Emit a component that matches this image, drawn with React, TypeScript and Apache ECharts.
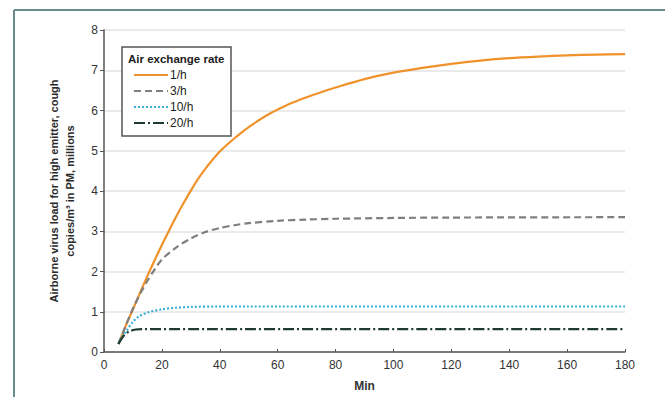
import React, { useEffect, useRef } from "react";
import * as echarts from "echarts";

const seriesNames = ["1/h", "3/h", "10/h", "20/h"];

const rate1: [number, number][] = [
  [5, 0.2], [7.5, 0.65], [10, 1.06], [12.5, 1.48], [15, 1.89], [17.5, 2.28], [20, 2.66],
  [22.5, 3.02], [25, 3.37], [27.5, 3.7], [30, 4.01], [32.5, 4.3], [35, 4.55], [37.5, 4.775],
  [40, 4.98], [42.5, 5.15], [45, 5.305], [47.5, 5.45], [50, 5.585], [52.5, 5.71], [55, 5.825],
  [57.5, 5.93], [60, 6.025], [65, 6.19], [70, 6.33],
  [75, 6.455], [80, 6.57], [90, 6.78], [100, 6.94], [110, 7.06], [120, 7.16], [130, 7.24],
  [140, 7.3], [150, 7.34], [160, 7.37], [170, 7.39], [180, 7.4],
];
const rate3: [number, number][] = [
  [5, 0.2], [7.5, 0.65], [10, 1.08], [12.5, 1.45], [15, 1.77], [17.5, 2.05], [20, 2.3],
  [25, 2.6], [30, 2.82], [35, 2.98], [40, 3.08], [45, 3.15], [50, 3.2], [60, 3.26],
  [70, 3.29], [80, 3.31], [100, 3.33], [120, 3.34], [180, 3.35],
];
const rate10: [number, number][] = [
  [5, 0.2], [6, 0.35], [8, 0.55], [10, 0.75], [12, 0.88], [15, 0.98], [20, 1.06],
  [25, 1.1], [30, 1.12], [40, 1.13], [180, 1.13],
];
const rate20: [number, number][] = [
  [5, 0.2], [7, 0.42], [9, 0.52], [11, 0.56], [13, 0.57], [180, 0.57],
];

const xTicks = { min: 0, max: 180, interval: 20 };
const yTicks = { min: 0, max: 8, interval: 1 };

const FONT = "'Liberation Sans', Arial, sans-serif";

export default function App() {
  const ref = useRef<HTMLDivElement>(null);
  useEffect(() => {
    if (!ref.current) return;
    const chart = echarts.init(ref.current, null, { renderer: "svg" });
    const lineBase = { type: "line", showSymbol: false, symbol: "none", smooth: 0.3 };
    chart.setOption({
      animation: false,
      backgroundColor: "#ffffff",
      grid: { left: 104, top: 30, right: 40, bottom: 43 },
      xAxis: {
        type: "value",
        min: xTicks.min,
        max: xTicks.max,
        interval: xTicks.interval,
        name: "Min",
        nameLocation: "middle",
        nameGap: 28,
        nameTextStyle: { fontFamily: FONT, fontSize: 12, color: "#333", fontWeight: "bold" },
        axisLine: { lineStyle: { color: "#555", width: 1.5 } },
        axisTick: { inside: true, length: 3, lineStyle: { color: "#555" } },
        axisLabel: { fontFamily: FONT, fontSize: 12, color: "#333", margin: 7 },
        splitLine: { show: false },
      },
      yAxis: {
        type: "value",
        min: yTicks.min,
        max: yTicks.max,
        interval: yTicks.interval,
        name: "Airborne virus load for high emitter, cough\ncopies/m³ in PM, millions",
        nameLocation: "middle",
        nameGap: 26,
        nameTextStyle: { fontFamily: FONT, fontSize: 11, color: "#2a2a2a", lineHeight: 16, fontWeight: "bold" },
        axisLine: { show: true, lineStyle: { color: "#555", width: 1.5 } },
        axisTick: { show: true, length: 4, lineStyle: { color: "#555" } },
        axisLabel: { fontFamily: FONT, fontSize: 12, color: "#333", margin: 6 },
        splitLine: { lineStyle: { color: "#e3e3e3", width: 1.5 } },
      },
      legend: {
        orient: "vertical",
        left: 128,
        top: 64,
        itemWidth: 34,
        itemHeight: 10,
        itemGap: 4,
        z: 6,
        itemStyle: { opacity: 0, color: "transparent", borderWidth: 0 },
        textStyle: { fontFamily: FONT, fontSize: 12, color: "#222", padding: [0, 0, 0, -3] },
        data: seriesNames,
      },
      graphic: [
        {
          type: "line",
          shape: { x1: 14, y1: 10, x2: 665, y2: 10 },
          style: { stroke: "#6b8c8c", lineWidth: 2 },
        },
        {
          type: "line",
          shape: { x1: 14, y1: 10, x2: 14, y2: 397 },
          style: { stroke: "#6b8c8c", lineWidth: 2 },
        },
        {
          type: "rect",
          z: 3,
          shape: { x: 122, y: 47, width: 109, height: 89 },
          style: { fill: "#ffffff", stroke: "#555", lineWidth: 1.5 },
        },
        {
          type: "text",
          z: 5,
          x: 128,
          y: 53,
          style: {
            text: "Air exchange rate",
            fontFamily: FONT,
            fontSize: 11.5,
            fontWeight: "bold",
            fill: "#222",
          },
        },
      ],
      series: [
        { ...lineBase, name: seriesNames[0], data: rate1, lineStyle: { color: "#f0922b", width: 2.2 }, itemStyle: { color: "#f0922b" } },
        { ...lineBase, name: seriesNames[1], data: rate3, lineStyle: { color: "#7f7f7f", width: 2.2, type: [7, 4] }, itemStyle: { color: "#7f7f7f" } },
        { ...lineBase, name: seriesNames[2], data: rate10, lineStyle: { color: "#3aaed8", width: 2.2, type: [2, 2] }, itemStyle: { color: "#3aaed8" } },
        { ...lineBase, name: seriesNames[3], data: rate20, lineStyle: { color: "#1e3a32", width: 2.2, type: [11, 3, 2, 3] }, itemStyle: { color: "#1e3a32" } },
      ],
    });
    return () => chart.dispose();
  }, []);
  return <div ref={ref} style={{ position: "fixed", left: 0, top: 0, width: 665, height: 397 }} />;
}
